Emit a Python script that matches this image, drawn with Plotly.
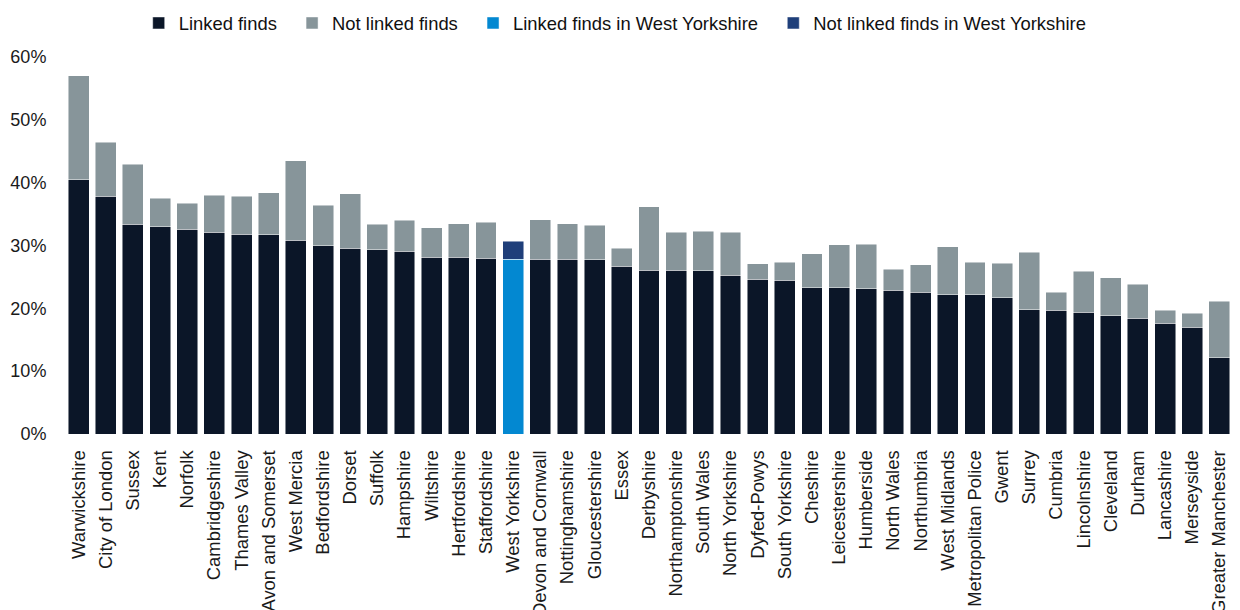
import plotly.graph_objects as go

forces = ["Warwickshire", "City of London", "Sussex", "Kent", "Norfolk", "Cambridgeshire",
          "Thames Valley", "Avon and Somerset", "West Mercia", "Bedfordshire", "Dorset",
          "Suffolk", "Hampshire", "Wiltshire", "Hertfordshire", "Staffordshire",
          "West Yorkshire", "Devon and Cornwall", "Nottinghamshire", "Gloucestershire",
          "Essex", "Derbyshire", "Northamptonshire", "South Wales", "North Yorkshire",
          "Dyfed-Powys", "South Yorkshire", "Cheshire", "Leicestershire", "Humberside",
          "North Wales", "Northumbria", "West Midlands", "Metropolitan Police", "Gwent",
          "Surrey", "Cumbria", "Lincolnshire", "Cleveland", "Durham", "Lancashire",
          "Merseyside", "Greater Manchester"]

linked = [40.5, 37.8, 33.4, 33.0, 32.6, 32.1, 31.8, 31.7, 30.8, 30.0, 29.6, 29.3, 29.1,
          28.1, 28.1, 28.0, 27.8, 27.8, 27.8, 27.7, 26.7, 26.1, 26.1, 26.0, 25.3, 24.6,
          24.5, 23.3, 23.3, 23.1, 22.9, 22.6, 22.2, 22.2, 21.7, 19.8, 19.7, 19.4, 18.8,
          18.4, 17.6, 17.0, 12.1]

total = [57.0, 46.4, 42.9, 37.5, 36.7, 38.0, 37.8, 38.4, 43.5, 36.4, 38.2, 33.4, 34.0,
         32.8, 33.5, 33.7, 30.7, 34.1, 33.5, 33.2, 29.6, 36.2, 32.1, 32.3, 32.1, 27.1,
         27.3, 28.7, 30.1, 30.2, 26.2, 26.9, 29.8, 27.3, 27.2, 28.9, 22.6, 25.9, 24.9,
         23.8, 19.7, 19.2, 21.1]

not_linked = [round(t - l, 1) for t, l in zip(total, linked)]

series_names = ["Linked finds", "Not linked finds",
                "Linked finds in West Yorkshire", "Not linked finds in West Yorkshire"]

highlight = "West Yorkshire"

C_LINKED = "#0B1628"
C_NOTLINKED = "#87959A"
C_LINKED_WY = "#0388D1"
C_NOTLINKED_WY = "#1F3F7A"

def pick(vals, wy):
    return [v if ((f == highlight) == wy) else None for f, v in zip(forces, vals)]

line = dict(color="rgba(255,255,255,0.8)", width=0.6)
pad = "\u00a0\u00a0"

fig = go.Figure()
fig.add_trace(go.Bar(x=forces, y=pick(linked, False), name=series_names[0] + pad,
                     marker=dict(color=C_LINKED, line=line)))
fig.add_trace(go.Bar(x=forces, y=pick(not_linked, False), name=series_names[1] + pad,
                     marker=dict(color=C_NOTLINKED, line=line)))
fig.add_trace(go.Bar(x=forces, y=pick(linked, True), name=series_names[2] + pad,
                     marker=dict(color=C_LINKED_WY, line=line)))
fig.add_trace(go.Bar(x=forces, y=pick(not_linked, True), name=series_names[3],
                     marker=dict(color=C_NOTLINKED_WY, line=line)))

W, H = 1232, 602  # page body has an 8px margin
fig.update_layout(
    barmode="stack",
    bargap=0.23,
    width=W, height=H,
    margin=dict(l=57, r=7, t=49, b=176, autoexpand=False),
    paper_bgcolor="white", plot_bgcolor="white",
    font=dict(family="Liberation Sans, Arial, sans-serif", size=18, color="#1a1a1a"),
    legend=dict(orientation="h", x=0.0631, xanchor="left",
                y=1 - 15 / H, yanchor="middle", yref="container",
                font=dict(size=18.4, color="#111111"),
                traceorder="normal", itemwidth=30),
    showlegend=True,
)
fig.update_yaxes(range=[0, 60], dtick=10, ticksuffix="%", showgrid=False, zeroline=False,
                 showline=False, ticks="outside", ticklen=14, tickcolor="rgba(0,0,0,0)",
                 tickfont=dict(size=18), automargin=False)
fig.update_xaxes(tickangle=-90, showgrid=False, showline=False, ticks="outside",
                 ticklen=8, tickcolor="rgba(0,0,0,0)", tickfont=dict(size=18.4),
                 automargin=False)

fig.write_html("out.html")
